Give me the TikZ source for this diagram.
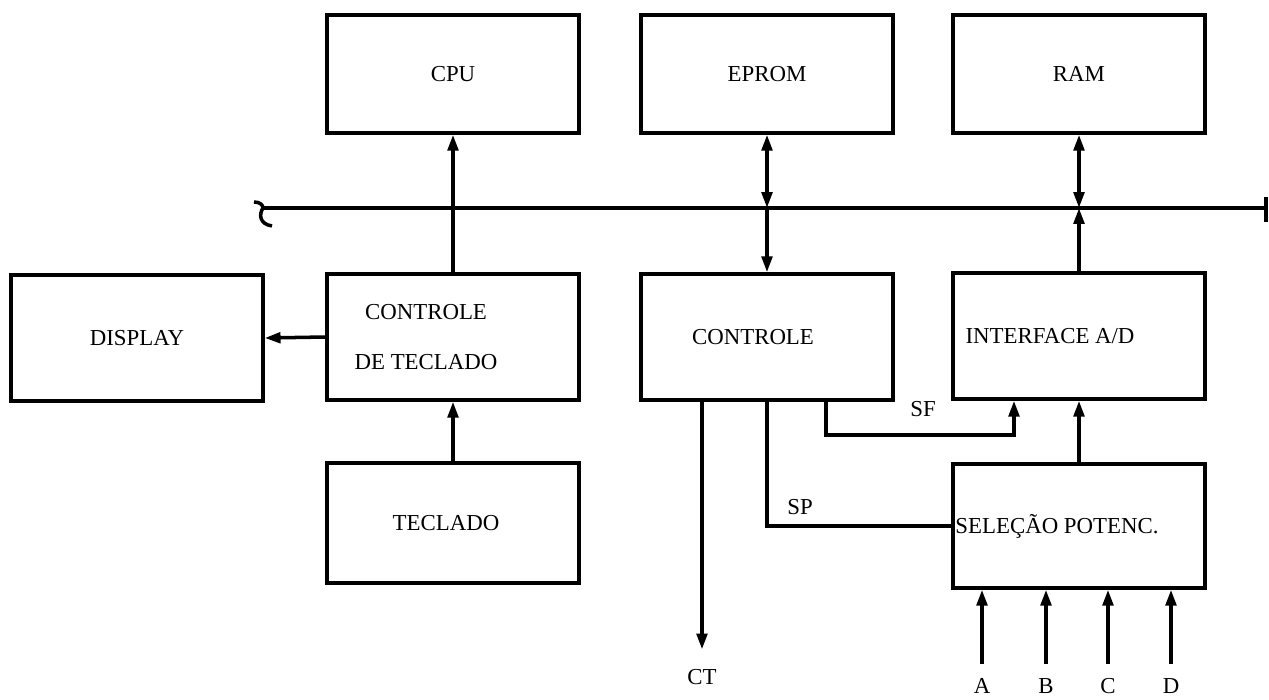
\documentclass[tikz,border=0pt]{standalone}
\usepackage{fontspec}
\setmainfont{Liberation Serif}
\usetikzlibrary{arrows.meta,positioning,calc}

\begin{document}
\begin{tikzpicture}[x=0.02cm,y=-0.02cm,line width=2pt,
  font=\fontsize{13}{28}\selectfont,
  blk/.style={draw,minimum width=5.04cm,inner sep=0pt,align=center},
  lbl/.style={align=center},
  arr/.style={-{Triangle[length=9pt,width=6pt]}},
  darr/.style={{Triangle[length=9pt,width=6pt]}-{Triangle[length=9pt,width=6pt]}}]
\useasboundingbox (0,0) rectangle (1269,700);
% linha superior
\node[blk,minimum height=2.36cm] (cpu) at (453,74) {CPU};
\node[blk,minimum height=2.36cm] (eprom) at (767,74) {EPROM};
\node[blk,minimum height=2.36cm] (ram) at (1079,74) {RAM};
% linha do meio
\node[blk,minimum height=2.52cm] (disp) at (137,338) {DISPLAY};
\node[blk,minimum height=2.52cm,label={[lbl,xshift=-0.54cm]center:CONTROLE\\DE TECLADO}] (kbc) at (453,337) {};
\node[blk,minimum height=2.52cm,label={[lbl,xshift=-0.28cm]center:CONTROLE}] (ctrl) at (767,337) {};
\node[blk,minimum height=2.52cm,label={[lbl,xshift=-0.58cm]center:INTERFACE A/D}] (adc) at (1079,336) {};
% linha inferior
\node[blk,minimum height=2.4cm,label={[lbl,xshift=-0.14cm]center:TECLADO}] (keys) at (453,523) {};
\node[blk,minimum height=2.48cm,label={[lbl,xshift=-0.44cm]center:SELEÇÃO POTENC.}] (sel) at (1079,526) {};
% barramento
\coordinate (busL) at (263,208);
\coordinate (busR) at (1266,208);
\draw (busL) -- (busR);
\draw (254,202) .. controls (260,202) and (263,205) .. (busL) .. controls (259,214) and (259,224) .. (272,226);
\draw (1266,197) -- (1266,222);
% ligacoes
\draw[arr] (kbc.north) -- (cpu.south);
\draw[darr] (eprom.south) -- (eprom.south |- busL);
\draw[arr] (eprom.south |- busL) -- (ctrl.north);
\draw[darr] (ram.south) -- (ram.south |- busL);
\draw[arr] (adc.north) -- (adc.north |- busL);
\draw[arr] (kbc.west) -- (disp.east);
\draw[arr] (keys.north) -- (kbc.south);
\draw[arr] (sel.north) -- (adc.south);
% sinais de controle
\node (ct) at (702,677) {CT};
\draw[arr,shorten >=7pt] (ct |- ctrl.south) -- (ct.north);
\draw[arr] ($(ctrl.south)+(59,0)$) |- ($(adc.south)+(-65,34)$) -- ($(adc.south)+(-65,0)$);
\node (sf) at (923,409) {SF};
\draw (ctrl.south) |- (sel.west);
\node (sp) at (800,507) {SP};
\foreach \n/\x in {A/982,B/1046,C/1108,D/1171} {
  \node (\n) at (\x,686) {\n};
  \draw[arr,shorten <=4pt] (\n.north) -- (\n.north |- sel.south);
}
\end{tikzpicture}
\end{document}
